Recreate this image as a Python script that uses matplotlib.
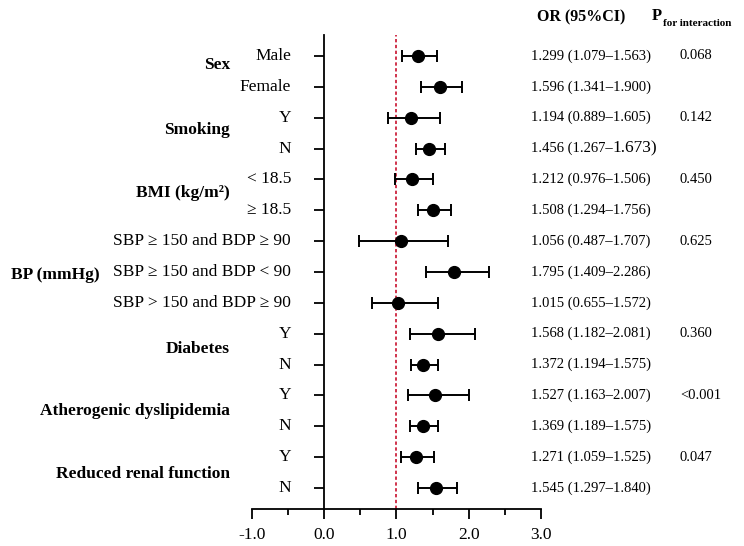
import matplotlib
matplotlib.use("Agg")
import matplotlib.pyplot as plt
from matplotlib.transforms import blended_transform_factory

# ---- data ----
sub_labels = ["Male", "Female", "Y", "N", "< 18.5", "\u2265 18.5",
              "SBP \u2265 150 and BDP \u2265 90", "SBP \u2265 150 and BDP < 90",
              "SBP > 150 and BDP \u2265 90", "Y", "N", "Y", "N", "Y", "N"]
or_est = [1.299, 1.596, 1.194, 1.456, 1.212, 1.508, 1.056, 1.795, 1.015,
          1.568, 1.372, 1.527, 1.369, 1.271, 1.545]
ci_low = [1.079, 1.341, 0.889, 1.267, 0.976, 1.294, 0.487, 1.409, 0.655,
          1.182, 1.194, 1.163, 1.189, 1.059, 1.297]
ci_high = [1.563, 1.900, 1.605, 1.673, 1.506, 1.756, 1.707, 2.286, 1.572,
           2.081, 1.575, 2.007, 1.575, 1.525, 1.840]
group_labels = ["Sex", "Smoking", "BMI (kg/m\u00b2)", "BP (mmHg)", "Diabetes",
                "Atherogenic dyslipidemia", "Reduced renal function"]
group_rows = [0.3, 2.4, 4.45, 7.1, 9.5, 11.5, 13.55]
p_values = ["0.068", "0.142", "0.450", "0.625", "0.360", "<0.001", "0.047"]
p_rows = [0, 2, 4, 6, 9, 11, 13]
x_ticks = [-1.0, 0.0, 1.0, 2.0, 3.0]
x_ticklabels = ["-1.0", "0.0", "1.0", "2.0", "3.0"]

SERIF = ["Liberation Serif", "DejaVu Serif"]
plt.rcParams["font.family"] = SERIF

W, H = 744, 546
fig = plt.figure(figsize=(W / 100, H / 100), dpi=100)
ax = fig.add_axes([252 / W, 1 - 509 / H, (541 - 252) / W, (509 - 35) / H])

rows = list(range(len(sub_labels)))
xerr = [[e - l for e, l in zip(or_est, ci_low)], [h - e for e, h in zip(or_est, ci_high)]]
ax.errorbar(or_est, rows, xerr=xerr, fmt="o", color="black", ecolor="black",
            markersize=8.5, elinewidth=1.4, capsize=4.5, capthick=1.4, zorder=3)
ax.axvline(1.0, color="#c8102e", linestyle=(0, (2, 1.5)), linewidth=1.2, zorder=1)

ax.set_xlim(-1.0, 3.0)
ax.set_ylim(len(rows) - 1 + 0.68, -0.68)
ax.set_xticks(x_ticks)
ax.set_xticklabels(x_ticklabels, fontsize=12.5)
ax.set_xticks([-0.5, 0.5, 1.5, 2.5], minor=True)
ax.set_yticks(rows)
ax.set_yticklabels([])
ax.tick_params(axis="x", which="major", length=7, width=1.3, direction="out", pad=6)
ax.tick_params(axis="x", which="minor", length=4, width=1.3, direction="out")
ax.tick_params(axis="y", which="major", length=7, width=1.3, direction="out")
for s in ["top", "right"]:
    ax.spines[s].set_visible(False)
for s in ["left", "bottom"]:
    ax.spines[s].set_linewidth(1.3)
ax.spines["left"].set_position(("data", 0.0))

tr = blended_transform_factory(fig.transFigure, ax.transData)

# sub labels
for r, lab in zip(rows, sub_labels):
    ax.text(291 / W, r, lab, transform=tr, ha="right", va="center",
            fontsize=12.5, family=SERIF)

# group labels
for lab, r in zip(group_labels, group_rows):
    x = 100 / W if lab.startswith("BP") else 230 / W
    ax.text(x, r, lab, transform=tr, ha="right", va="center",
            fontsize=12.5, fontweight="bold", family=SERIF)

# OR (95%CI) column
for r, e, l, h in zip(rows, or_est, ci_low, ci_high):
    if r == 3:
        t = ax.text(531 / W, r, f"{e:.3f} ({l:.3f}\u2013", transform=tr, ha="left",
                    va="center", fontsize=10.5, family=SERIF)
        ax.annotate(f"{h:.3f})", xy=(1, 0), xycoords=t, ha="left", va="bottom",
                    fontsize=12.5, family=SERIF, xytext=(0, -1), textcoords="offset points")
    else:
        ax.text(531 / W, r, f"{e:.3f} ({l:.3f}\u2013{h:.3f})", transform=tr,
                ha="left", va="center", fontsize=10.5, family=SERIF)

# P values
for p, r in zip(p_values, p_rows):
    ax.text(680 / W, r, p, transform=tr, ha="left", va="center",
            fontsize=10.5, family=SERIF)

# headers
fig.text(537 / W, 1 - 17 / H, "OR (95%CI)", ha="left", va="center",
         fontsize=11.5, fontweight="bold", family=SERIF)
tp = fig.text(652 / W, 1 - 16 / H, "P", ha="left", va="center",
              fontsize=12, fontweight="bold", family=SERIF)
ax.annotate("for interaction", xy=(1, 0), xycoords=tp, ha="left", va="center",
            fontsize=8, fontweight="bold", family=SERIF,
            xytext=(0.5, 0), textcoords="offset points")

fig.savefig("out.png", dpi=100)
